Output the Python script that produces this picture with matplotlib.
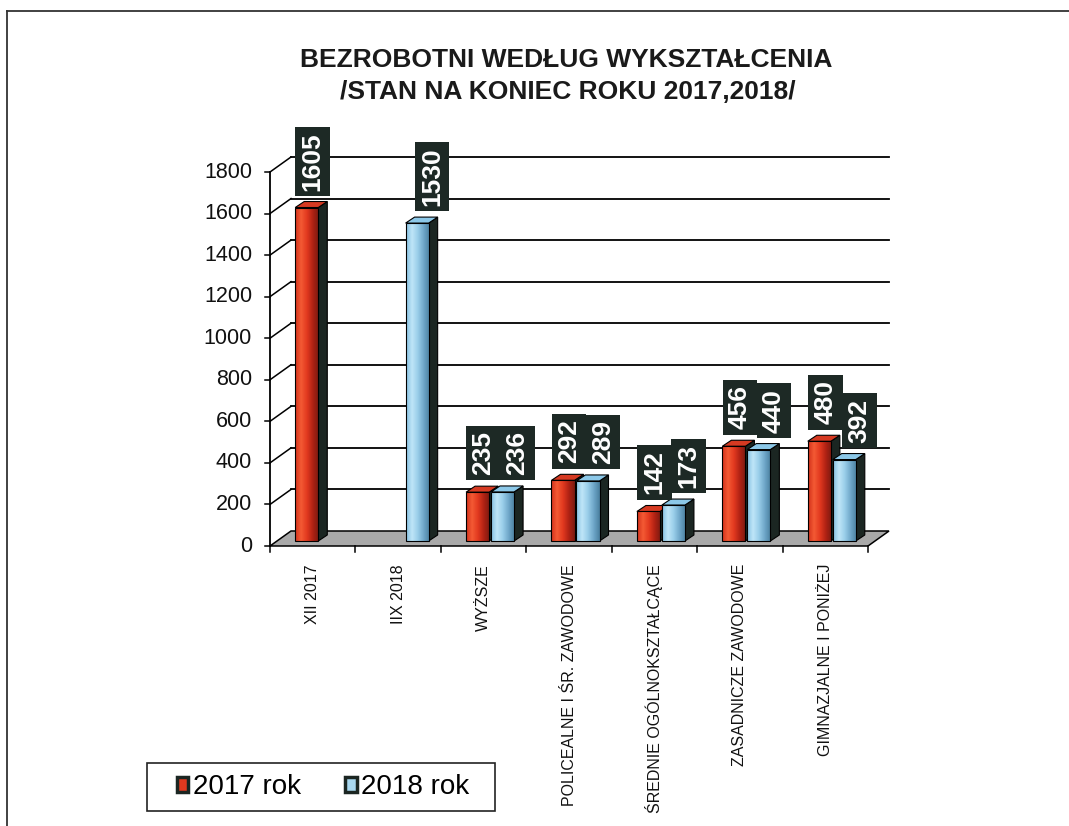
import numpy as np
import matplotlib
matplotlib.use('Agg')
import matplotlib.pyplot as plt
from matplotlib.patches import Rectangle, Polygon, Patch
from matplotlib.lines import Line2D
from matplotlib.colors import LinearSegmentedColormap

plt.rcParams['font.family'] = ['Liberation Sans', 'DejaVu Sans']

# data
categories = ['XII 2017', 'IIX 2018', 'WYŻSZE', 'POLICEALNE I ŚR. ZAWODOWE',
              'ŚREDNIE OGÓLNOKSZTAŁCĄCE', 'ZASADNICZE ZAWODOWE', 'GIMNAZJALNE I PONIŻEJ']
rok_2017 = [1605, np.nan, 235, 292, 142, 456, 480]
rok_2018 = [np.nan, 1530, 236, 289, 173, 440, 392]
series_names = ['2017 rok', '2018 rok']
y_ticks = list(range(0, 1801, 200))

title_1 = 'BEZROBOTNI WEDŁUG WYKSZTAŁCENIA'
title_2 = '/STAN NA KONIEC ROKU 2017,2018/'

W, H = 1069, 826
fig = plt.figure(figsize=(W / 100, H / 100), dpi=100)
fig.patch.set_facecolor('white')

# front plane of the pseudo 3d chart, in pixels
ax_l, ax_r, ax_b, ax_t = 270, 868, 546, 172
ax = fig.add_axes([ax_l / W, 1 - ax_b / H, (ax_r - ax_l) / W, (ax_b - ax_t) / H])
ax.axis('off')
xmin, xmax = -0.5, len(categories) - 0.5
ymax = 1800
kx = (xmax - xmin) / (ax_r - ax_l)   # data units per pixel
ky = ymax / (ax_b - ax_t)

# depth offsets (pixels): back wall, bar front, bar back
wall = (21 * kx, 15 * ky)
bfront = (6.5 * kx, 5 * ky)
bback = (15.5 * kx, 11 * ky)

# back wall grid + left diagonals
for t in y_ticks:
    if t > 0:
        ax.plot([xmin + wall[0], xmax + wall[0]], [t + wall[1]] * 2, color='black', lw=1.3, zorder=1, clip_on=False)
        ax.plot([xmin, xmin + wall[0]], [t, t + wall[1]], color='black', lw=1.1, zorder=1, clip_on=False)
    ax.plot([xmin - 5 * kx, xmin], [t, t], color='black', lw=1.1, clip_on=False)
    ax.text(xmin - 18 * kx, t, str(t), ha='right', va='center', fontsize=15.5, color='#111111')

ax.plot([xmin, xmin], [0, ymax], color='black', lw=1.3, zorder=5, clip_on=False)

# floor
floor = Polygon([(xmin, 0), (xmax, 0), (xmax + wall[0], wall[1]), (xmin + wall[0], wall[1])],
                closed=True, facecolor='#a9a9a9', edgecolor='black', lw=1.1, zorder=2, clip_on=False)
ax.add_patch(floor)

for k in range(len(categories) + 1):
    ax.plot([xmin + k, xmin + k], [0, -6 * ky], color='black', lw=1.1, clip_on=False)

for i, lab in enumerate(categories):
    ax.text(i, -18 * ky, lab, rotation=90, ha='center', va='top', fontsize=11.5, color='#111111')

red_grad = ['#d2301a', '#f45a34', '#e2391f', '#b02214', '#7a1a10']
blue_grad = ['#86c0e2', '#bfe6f8', '#98cde9', '#6ea6c8', '#4a7f9e']
side_col = '#1b2622'
top_cols = ['#d63a22', '#8cc8e8']
label_box = '#1d2925'

width = 0.27
offsets = [-0.146, 0.146]
label_dx = [6, 15]


def draw_bar(xc, v, grad, top_col, z):
    x0, x1 = xc - width / 2, xc + width / 2
    fx, fy = bfront
    bx, by = bback
    side = Polygon([(x1 + fx, fy), (x1 + bx, by), (x1 + bx, v + by), (x1 + fx, v + fy)],
                   closed=True, facecolor=side_col, edgecolor='black', lw=0.8, zorder=z)
    top = Polygon([(x0 + fx, v + fy), (x1 + fx, v + fy), (x1 + bx, v + by), (x0 + bx, v + by)],
                  closed=True, facecolor=top_col, edgecolor='black', lw=0.8, zorder=z)
    ax.add_patch(side)
    ax.add_patch(top)
    rect = Rectangle((x0 + fx, fy), width, v, facecolor='none', edgecolor='black', lw=0.8, zorder=z + 0.2)
    ax.add_patch(rect)
    cmap = LinearSegmentedColormap.from_list('g', grad)
    im = ax.imshow(np.linspace(0, 1, 64).reshape(1, -1), cmap=cmap, aspect='auto',
                   extent=(x0 + fx, x1 + fx, fy, v + fy), zorder=z + 0.1, interpolation='bilinear')
    im.set_clip_path(rect)


z = 3
for i in range(len(categories)):
    for s, vals in enumerate([rok_2017, rok_2018]):
        v = vals[i]
        if np.isnan(v):
            continue
        xc = i + offsets[s]
        draw_bar(xc, v, [red_grad, blue_grad][s], top_cols[s], z)
        z += 1
        ax.text(xc + bfront[0] + label_dx[s] * kx, v + bfront[1] + 17 * ky, str(int(v)),
                rotation=90, ha='center', va='bottom', fontsize=19, fontweight='bold', color='white',
                zorder=50,
                bbox=dict(boxstyle='square,pad=0.2', facecolor=label_box, edgecolor='none'))

ax.set_xlim(xmin, xmax)
ax.set_ylim(0, ymax)

# title
fig.text(566 / W, 1 - 60 / H, title_1, ha='center', va='center', fontsize=19, fontweight='bold', color='#1a1a1a')
fig.text(568 / W, 1 - 92 / H, title_2, ha='center', va='center', fontsize=19, fontweight='bold', color='#1a1a1a')

# legend
fig.add_artist(Rectangle((147 / W, 1 - 811 / H), 348 / W, 48 / H, transform=fig.transFigure,
                         facecolor='white', edgecolor='#222222', lw=1.2))
handles = [Patch(facecolor='#e2391f', edgecolor=side_col, lw=2.5),
           Patch(facecolor='#a8d8f0', edgecolor=side_col, lw=2.5)]
fig.legend(handles, series_names, loc='center', bbox_to_anchor=(323 / W, 1 - 787 / H), ncol=2,
           frameon=False, fontsize=20, handlelength=0.42, handleheight=0.45, handletextpad=0.15,
           columnspacing=1.6)

# page frame lines from the scan
fig.add_artist(Line2D([7 / W, 1], [1 - 11 / H, 1 - 11 / H], color='#333333', lw=1.3))
fig.add_artist(Line2D([7 / W, 7 / W], [0, 1 - 11 / H], color='#333333', lw=1.3))

fig.savefig('out.png', dpi=100)
